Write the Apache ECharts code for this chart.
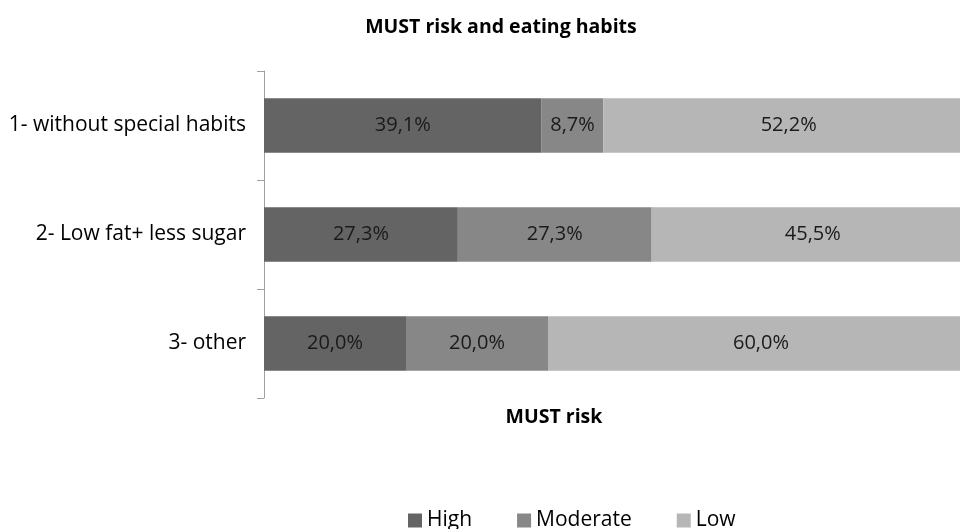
<!DOCTYPE html>
<html>
<head>
<meta charset="utf-8">
<script src="https://cdn.jsdelivr.net/npm/echarts@6/dist/echarts.min.js"></script>
<style>
  html, body { margin: 0; padding: 0; background: #fff; }
  #chart { width: 960px; height: 529px; }
</style>
</head>
<body>
<div id="chart"></div>
<script>
// Eating-habit groups, listed top to bottom
const categories = ['1- without special habits', '2- Low fat+ less sugar', '3- other'];
// Share of each MUST risk level per group (%)
const high = [39.1, 27.3, 20.0];
const moderate = [8.7, 27.3, 20.0];
const low = [52.2, 45.5, 60.0];

const seriesNames = ['High', 'Moderate', 'Low'];
const seriesColors = ['#646464', '#878787', '#b6b6b6'];
const seriesData = [high, moderate, low];

const FONT = '"Open Sans", "Noto Sans", sans-serif';

const chart = echarts.init(document.getElementById('chart'), null, { renderer: 'canvas' });

chart.setOption({
  animation: false,
  title: [
    {
      text: 'MUST risk and eating habits',
      left: 496, top: 12, textAlign: 'center',
      textStyle: { fontFamily: FONT, fontSize: 19.5, fontWeight: 'bold', color: '#000' }
    },
    {
      text: 'MUST risk',
      left: 549, top: 402, textAlign: 'center',
      textStyle: { fontFamily: FONT, fontSize: 19.5, fontWeight: 'bold', color: '#000' }
    }
  ],
  legend: {
    top: 510, left: 408, padding: 0, itemGap: 45,
    itemWidth: 14, itemHeight: 14, icon: 'rect',
    textStyle: { fontFamily: FONT, fontSize: 21, color: '#000' },
    data: seriesNames
  },
  // plot area runs past the right edge of the page
  grid: { left: 264, top: 71, width: 710, height: 327, containLabel: false, outerBoundsMode: 'none' },
  xAxis: {
    type: 'value', min: 0, max: 100, show: false
  },
  yAxis: {
    type: 'category', inverse: true, data: categories,
    axisLine: { show: true, lineStyle: { color: '#a0a0a0', width: 1 } },
    axisTick: { show: true, length: 7, lineStyle: { color: '#a0a0a0' } },
    axisLabel: { margin: 18, fontFamily: FONT, fontSize: 21, color: '#000' },
    splitLine: { show: false }
  },
  series: seriesNames.map((name, i) => ({
    name: name,
    type: 'bar',
    stack: 'total',
    barWidth: '50%',
    itemStyle: { color: seriesColors[i] },
    label: {
      show: true, position: 'inside',
      fontFamily: FONT, fontSize: 20, color: '#1a1a1a',
      formatter: p => p.value.toFixed(1).replace('.', ',') + '%'
    },
    data: seriesData[i]
  }))
});
</script>
</body>
</html>
